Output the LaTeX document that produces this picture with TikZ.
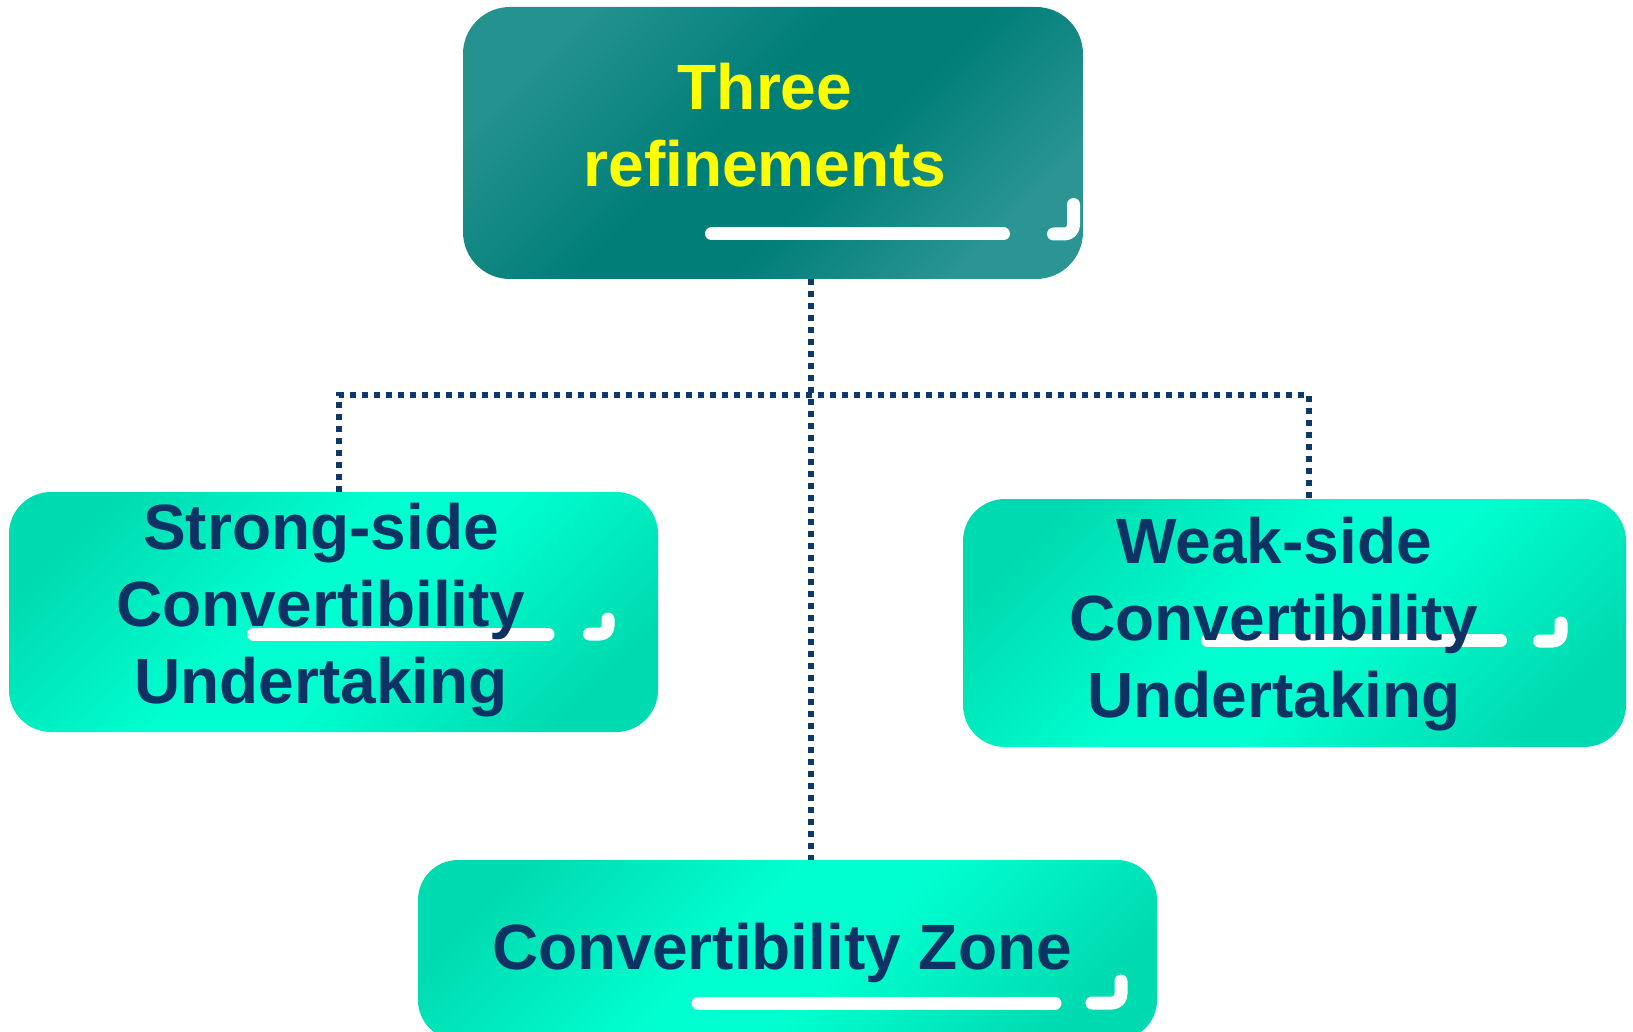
\documentclass[tikz,border=0pt]{standalone}
\usepackage{fontspec}
\setmainfont{Liberation Sans}
\definecolor{navy}{HTML}{0D3263}
\definecolor{dotc}{HTML}{0C386A}
\definecolor{tealL}{HTML}{2A9592}
\definecolor{tealD}{HTML}{007E78}
\definecolor{grD}{HTML}{00DAB0}
\definecolor{grL}{HTML}{00FFD0}
\definecolor{yel}{HTML}{FFFF00}
\pgfdeclareverticalshading{tealsh}{100bp}{color(0bp)=(tealL); color(25bp)=(tealL); color(43bp)=(tealD); color(55bp)=(tealD); color(75bp)=(tealL!85!tealD); color(100bp)=(tealL!85!tealD)}
\pgfdeclareverticalshading{greensh}{100bp}{color(0bp)=(grD); color(23bp)=(grD); color(45bp)=(grL); color(55bp)=(grL); color(77bp)=(grD); color(100bp)=(grD)}
\begin{document}
\begin{tikzpicture}[x=1pt,y=-1pt,
  box/.style={rectangle, draw=none, inner sep=0pt},
  tealbox/.style={box, shading=tealsh, shading angle=45, rounded corners=47pt},
  greenbox/.style={box, shading=greensh, shading angle=45, rounded corners=42pt},
  conn/.style={draw=dotc, line width=6pt, dash pattern=on 6pt off 6pt},
  bar/.style={draw=white, line width=13pt, line cap=round, line join=round},
  lbl/.style={align=center, anchor=base, inner sep=0pt, font=\bfseries\fontsize{64}{77}\selectfont},
]
\useasboundingbox (0,0) rectangle (1633,1032);
\clip (0,0) rectangle (1633,1032);
\fill[white] (0,0) rectangle (1633,1032);
% boxes
\node[tealbox, minimum width=620pt, minimum height=272pt] (top) at (773,143) {};
\node[greenbox, minimum width=649pt, minimum height=240pt] (L) at (333.5,612) {};
\node[greenbox, minimum width=663pt, minimum height=248pt] (R) at (1294.5,623) {};
\node[greenbox, rounded corners=40pt, minimum width=739pt, minimum height=180pt] (B) at (787.5,950) {};
% connectors
\coordinate (j) at (811,395);
\coordinate (jl) at (338.5,395);
\coordinate (jr) at (1309,395);
\draw[conn] (j |- top.south) -- (j |- B.north);
\draw[conn] (jl |- L.north) -- (jl) -- (jr) -- (jr |- R.north);
% white decorations
\draw[bar] (711.5,234) -- (1003.5,234);
\draw[bar, rounded corners=9pt] (1053.5,234) -- (1073.5,234) -- (1073.5,204.5);
\draw[bar] (253.5,634) -- (548,634);
\draw[bar, rounded corners=8pt] (589.5,634) -- (608,634) -- (608,619);
\draw[bar] (1207.5,640.5) -- (1500.5,640.5);
\draw[bar, rounded corners=8pt] (1539.5,641) -- (1561,641) -- (1561,623);
\draw[bar] (698,1003) -- (1055,1003);
\draw[bar, rounded corners=9pt] (1092,1003) -- (1121,1003) -- (1121,981);
% texts (base anchor = last line's baseline)
\node[lbl, text=yel] (ttop) at (765,186.5) {Three\\refinements};
\node[lbl, text=navy] (tL) at (321,703) {Strong-side\\Convertibility\\Undertaking};
\node[lbl, text=navy] (tR) at (1274,717) {Weak-side\\Convertibility\\Undertaking};
\node[lbl, text=navy] (tB) at (782,969) {Convertibility Zone};
\end{tikzpicture}
\end{document}
